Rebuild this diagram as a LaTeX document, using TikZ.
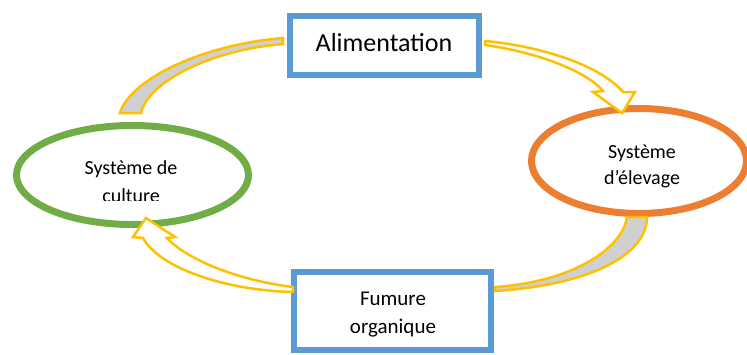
\documentclass[tikz,border=0pt]{standalone}
\usepackage{fontspec}
\setmainfont{Carlito}
\usetikzlibrary{shapes.geometric}
\definecolor{boxblue}{HTML}{5B9BD5}
\definecolor{cultgreen}{HTML}{70AD47}
\definecolor{elevorange}{HTML}{ED7D31}
\definecolor{arrowyellow}{HTML}{FFC000}
\definecolor{bandgray}{HTML}{D0D0D0}
\tikzset{
  boxnode/.style={draw=boxblue, line width=5.5pt, fill=white, rectangle, inner sep=0pt},
  ovalnode/.style={ellipse, line width=7pt, fill=white, inner sep=0pt},
  bandarrow/.style={draw=arrowyellow, line width=2.5pt, fill=bandgray},
  blockarrow/.style={draw=arrowyellow, line width=2.5pt, fill=white},
  labeltext/.style={font=\fontsize{20}{26}\selectfont, align=center, inner sep=0pt}
}
\begin{document}
\begin{tikzpicture}[x=1pt,y=-1pt]
\useasboundingbox (0,0) rectangle (747,354);
% ellipses
\node[ovalnode, draw=cultgreen, minimum width=232pt, minimum height=99pt] (culture) at (132.5,175) {};
\node[ovalnode, draw=elevorange, minimum width=215pt, minimum height=105pt] (elevage) at (639,161) {};
\begin{scope}
\clip (0,0) rectangle (747,200.5);
\node[labeltext, font=\fontsize{20}{28}\selectfont, anchor=base] (culturetext) at (131,202) {Système de\\culture};
\end{scope}
\node[labeltext, anchor=base] (elevagetext) at (642,184) {Système\\d’élevage};
% boxes
\node[boxnode, minimum width=189pt, minimum height=59pt] (alim) at (384.5,45.5) {};
\node[font=\fontsize{26}{30}\selectfont, inner sep=0pt, anchor=base] (alimtext) at (384,51) {Alimentation};
\node[boxnode, minimum width=197pt, minimum height=78pt] (fumure) at (392.5,311) {};
\node[labeltext, font=\fontsize{21}{28}\selectfont, anchor=base] (fumuretext) at (393,333) {Fumure\\organique};
% top-left gray band (culture -> alimentation)
\draw[bandarrow] (120,113) .. controls (130,80) and (200,45) .. (283,38)
  -- (283,44) .. controls (210,50) and (148,82) .. (141,113) -- cycle;
% bottom-right gray band (elevage -> fumure)
\draw[bandarrow] (647,217) .. controls (647,255) and (590,285) .. (495,291)
  -- (495,287) .. controls (570,282) and (622,250) .. (627,217) -- cycle;
% top-right arrow (alimentation -> elevage)
\draw[blockarrow] (485,41) .. controls (540,46) and (600,65) .. (623,92)
  -- (635,92) -- (622,113) -- (593,92) -- (603,91)
  .. controls (585,70) and (535,52) .. (485,45) -- cycle;
% bottom-left arrow (fumure -> culture)
\draw[blockarrow] (293,287) .. controls (235,280) and (185,258) .. (167,238)
  -- (175,237) -- (146,218) -- (133,237) -- (143,238)
  .. controls (158,266) and (220,290) .. (293,292) -- cycle;
\end{tikzpicture}
\end{document}
